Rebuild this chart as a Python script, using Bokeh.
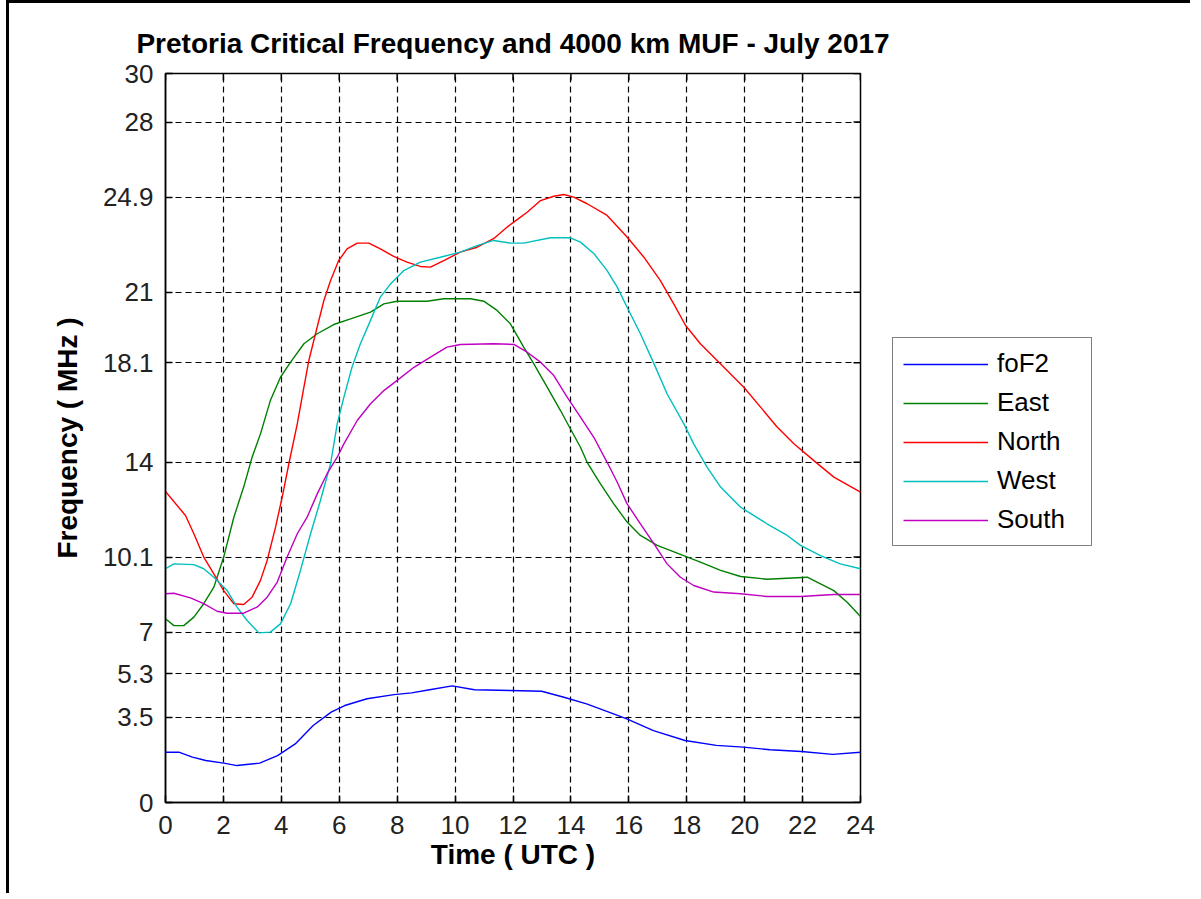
import math
from bokeh.plotting import figure
from bokeh.layouts import row
from bokeh.models import Legend, LegendItem, FixedTicker, Range1d, NumeralTickFormatter
from bokeh.embed import file_html
from bokeh.resources import INLINE

title_text = "Pretoria Critical Frequency and 4000 km MUF - July 2017"
x_label = "Time ( UTC )"
y_label = "Frequency ( MHz )"
x_ticks = [0, 2, 4, 6, 8, 10, 12, 14, 16, 18, 20, 22, 24]
y_ticks = [0, 3.5, 5.3, 7, 10.1, 14, 18.1, 21, 24.9, 28, 30]

fof2_h = [0, 0.46, 0.93, 1.39, 2.01, 2.47, 3.25, 3.87, 4.48, 5.1, 5.72, 6.19, 6.96, 7.89, 8.5, 9.12, 9.9,
          10.67, 11.91, 12.99, 13.76, 14.54, 15.31, 15.93, 16.85, 17.94, 19.02, 19.95, 20.88, 21.96, 23.04, 24.0]
fof2_v = [2.07, 2.07, 1.87, 1.73, 1.62, 1.52, 1.62, 1.93, 2.41, 3.17, 3.72, 3.99, 4.27, 4.44, 4.51, 4.64, 4.8,
          4.64, 4.61, 4.58, 4.33, 4.06, 3.72, 3.44, 2.96, 2.55, 2.35, 2.28, 2.17, 2.1, 1.98, 2.07]

east_h = [0, 0.29, 0.63, 0.98, 1.32, 1.67, 2.01, 2.36, 2.7, 2.99, 3.28, 3.62, 3.97, 4.32, 4.78, 5.24, 5.81,
          6.39, 7.08, 7.54, 8.0, 9.03, 9.61, 10.53, 10.99, 11.45, 11.91, 12.37, 12.72, 13.18, 13.64, 13.98,
          14.33, 14.56, 15.02, 15.48, 15.94, 16.4, 16.98, 17.67, 18.47, 19.17, 19.86, 20.77, 21.47, 22.16,
          22.62, 23.08, 23.54, 24.0]
east_v = [7.56, 7.28, 7.28, 7.63, 8.18, 8.86, 10.1, 11.74, 12.98, 14.21, 15.17, 16.54, 17.5, 18.12, 18.88,
          19.29, 19.67, 19.9, 20.18, 20.52, 20.63, 20.63, 20.73, 20.73, 20.63, 20.25, 19.7, 18.74, 18.05, 17.09,
          16.13, 15.38, 14.62, 14.0, 13.11, 12.29, 11.54, 10.99, 10.58, 10.26, 9.89, 9.55, 9.3, 9.19, 9.23,
          9.27, 9.0, 8.72, 8.24, 7.65]

north_h = [0, 0.69, 0.98, 1.32, 1.67, 2.01, 2.36, 2.7, 2.99, 3.28, 3.51, 3.8, 4.03, 4.26, 4.55, 4.78, 4.95,
           5.18, 5.47, 5.7, 5.98, 6.27, 6.62, 7.02, 7.42, 7.88, 8.34, 8.8, 9.15, 9.61, 10.18, 10.76, 11.33,
           11.8, 12.26, 12.49, 12.95, 13.41, 13.75, 14.1, 14.56, 15.25, 15.94, 16.52, 17.09, 17.55, 17.96,
           18.47, 19.17, 19.97, 20.55, 21.12, 21.7, 22.39, 23.08, 24.0]
north_v = [12.8, 11.81, 11.06, 10.1, 9.41, 8.72, 8.18, 8.15, 8.45, 9.14, 9.96, 11.33, 12.57, 13.94, 15.58,
           17.09, 18.19, 19.29, 20.66, 21.48, 22.3, 22.78, 23.02, 23.02, 22.78, 22.47, 22.24, 22.06, 22.03,
           22.3, 22.65, 22.85, 23.2, 23.68, 24.09, 24.29, 24.77, 24.95, 25.02, 24.91, 24.64, 24.16, 23.27,
           22.44, 21.48, 20.52, 19.63, 18.88, 18.05, 17.09, 16.27, 15.45, 14.76, 14.07, 13.39, 12.77]

west_h = [0, 0.29, 0.98, 1.32, 1.67, 2.13, 2.47, 2.82, 3.22, 3.62, 3.97, 4.32, 4.66, 5.01, 5.35, 5.7, 5.93,
          6.16, 6.44, 6.73, 7.08, 7.42, 7.77, 8.23, 8.8, 9.49, 10.18, 10.76, 11.33, 11.91, 12.37, 13.29, 13.98,
          14.33, 14.8, 15.25, 15.6, 15.94, 16.4, 16.87, 17.32, 17.9, 18.24, 18.7, 19.17, 19.86, 20.77, 21.47,
          21.93, 22.62, 23.3, 24.0]
west_v = [9.62, 9.82, 9.79, 9.62, 9.27, 8.72, 8.04, 7.49, 6.98, 7.01, 7.35, 8.18, 9.55, 11.06, 12.43, 13.94,
          15.58, 16.68, 17.91, 18.88, 19.84, 20.8, 21.34, 21.89, 22.24, 22.44, 22.65, 22.92, 23.13, 23.02,
          23.02, 23.24, 23.24, 23.06, 22.58, 21.89, 21.21, 20.38, 19.29, 18.05, 16.82, 15.58, 14.76, 13.8,
          12.98, 12.15, 11.47, 10.99, 10.58, 10.16, 9.82, 9.62]

south_h = [0, 0.29, 0.86, 1.32, 1.78, 2.13, 2.7, 3.16, 3.51, 3.86, 4.2, 4.55, 4.89, 5.24, 5.58, 5.93, 6.16,
           6.62, 7.08, 7.54, 8.0, 8.58, 9.15, 9.72, 10.18, 11.33, 12.03, 12.49, 12.95, 13.41, 13.87, 14.33,
           14.79, 15.25, 15.6, 15.94, 16.4, 16.87, 17.32, 17.78, 18.24, 18.93, 19.86, 20.77, 21.93, 23.08, 24.0]
south_v = [8.59, 8.61, 8.42, 8.18, 7.87, 7.79, 7.79, 8.04, 8.45, 9.07, 10.1, 11.06, 11.74, 12.7, 13.53,
           14.21, 14.76, 15.72, 16.41, 16.95, 17.37, 17.91, 18.33, 18.74, 18.85, 18.88, 18.85, 18.53, 18.12,
           17.57, 16.68, 15.86, 15.03, 14.0, 13.18, 12.29, 11.47, 10.64, 9.82, 9.27, 8.93, 8.66, 8.59, 8.48,
           8.48, 8.56, 8.56]

series_names = ["foF2", "East", "North", "West", "South"]
series_colors = ["#0000ff", "#008000", "#ff0000", "#00bfbf", "#bf00bf"]
series_h = [fof2_h, east_h, north_h, west_h, south_h]
series_v = [fof2_v, east_v, north_v, west_v, south_v]

FONT = "Liberation Sans"
X0, X1, Y0, Y1 = 0, 24, 0, 30

# ---- main axes ----
p = figure(width=881, height=890, x_range=Range1d(X0, X1), y_range=Range1d(Y0, Y1),
           output_backend="svg", toolbar_location=None,
           min_border_left=156, min_border_top=70, min_border_right=30, min_border_bottom=91)

p.title.text = title_text
p.title.text_font = FONT
p.title.text_font_size = "28px"
p.title.text_font_style = "bold"
p.title.align = "center"
p.title.standoff = 29
p.title.text_color = "black"

p.outline_line_color = "black"
p.outline_line_width = 1.5

p.xaxis.ticker = FixedTicker(ticks=x_ticks)
p.yaxis.ticker = FixedTicker(ticks=y_ticks)
p.yaxis.formatter = NumeralTickFormatter(format="0.[0]")
p.xaxis.axis_label = x_label
p.yaxis.axis_label = y_label

for ax in [p.xaxis[0], p.yaxis[0]]:
    ax.axis_line_color = "black"
    ax.axis_line_width = 1.5
    ax.major_tick_in = 7
    ax.major_tick_out = 0
    ax.major_tick_line_color = "black"
    ax.major_tick_line_width = 1.5
    ax.minor_tick_line_color = None
    ax.major_label_text_font = FONT
    ax.major_label_text_font_size = "26px"
    ax.major_label_text_color = "#222222"
    ax.axis_label_text_font = FONT
    ax.axis_label_text_font_size = "28px"
    ax.axis_label_text_font_style = "bold"
    ax.axis_label_text_color = "black"

p.xaxis.major_label_standoff = 13
p.xaxis.axis_label_standoff = 2
p.yaxis.major_label_standoff = 12
p.yaxis.axis_label_standoff = 17

# inward ticks on the top and right edges of the box
p.ray(x=x_ticks, y=[Y1] * len(x_ticks), length=7, length_units="screen",
      angle=-math.pi / 2, line_color="black", line_width=1.5)
p.ray(x=[X1] * len(y_ticks), y=y_ticks, length=7, length_units="screen",
      angle=math.pi, line_color="black", line_width=1.5)

p.xgrid.grid_line_color = "black"
p.ygrid.grid_line_color = "black"
p.xgrid.grid_line_dash = "6 4"
p.ygrid.grid_line_dash = "6 4"
p.xgrid.grid_line_width = 1.2
p.ygrid.grid_line_width = 1.2

for name, color, hh, vv in zip(series_names, series_colors, series_h, series_v):
    p.line(hh, vv, line_color=color, line_width=1.4)

# ---- legend panel to the right of the axes ----
lp = figure(width=300, height=890, x_range=Range1d(X0, X1), y_range=Range1d(Y0, Y1),
            output_backend="svg", toolbar_location=None,
            x_axis_type=None, y_axis_type=None,
            min_border_left=0, min_border_right=0, min_border_top=0, min_border_bottom=0)
lp.outline_line_color = None
lp.xgrid.visible = False
lp.ygrid.visible = False

items = []
for name, color, hh, vv in zip(series_names, series_colors, series_h, series_v):
    r = lp.line(hh, vv, line_color=color, line_width=1.4, visible=False)
    items.append(LegendItem(label=name, renderers=[r]))

legend = Legend(items=items, location=(2, 256))
legend.margin = 0
legend.padding = 10
legend.spacing = 8
legend.glyph_width = 85
legend.glyph_height = 28
legend.label_standoff = 9
legend.label_width = 84
legend.label_text_font = FONT
legend.label_text_font_size = "26px"
legend.label_text_color = "black"
legend.border_line_color = "black"
legend.border_line_width = 1.5
legend.background_fill_color = "white"
lp.add_layout(legend, "center")

layout = row(p, lp, spacing=0)
layout.styles = {"margin-left": "6px", "border-top": "3px solid black", "border-left": "3px solid black"}

open("out.html", "w").write(file_html(layout, INLINE))
